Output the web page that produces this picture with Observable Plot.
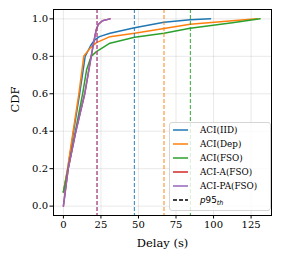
<!DOCTYPE html>
<html>
<head>
<meta charset="utf-8">
<script src="https://cdn.jsdelivr.net/npm/d3@7"></script>
<script src="https://cdn.jsdelivr.net/npm/@observablehq/plot@0.6"></script>
<style>
  html, body { margin: 0; padding: 0; background: #fff; }
  svg { display: block; }
</style>
</head>
<body>
<div id="chart"></div>
<script>
const seriesNames = ["ACI(IID)", "ACI(Dep)", "ACI(FSO)", "ACI-A(FSO)", "ACI-PA(FSO)"];
const seriesColors = ["#1f77b4", "#ff7f0e", "#2ca02c", "#d62728", "#9467bd"];

const iidX = [0, 2.9, 6.8, 10.8, 14.5, 18, 20.5, 24, 31, 47.4, 67, 84.4, 98];
const iidY = [0.075, 0.2, 0.4, 0.6, 0.8, 0.855, 0.885, 0.905, 0.923, 0.952, 0.982, 0.995, 1.0];
const depX = [0, 2.8, 6.5, 10.3, 13.6, 18, 22, 31, 47.4, 67, 84.4, 112.5, 129];
const depY = [0.075, 0.2, 0.4, 0.6, 0.802, 0.845, 0.873, 0.905, 0.923, 0.948, 0.971, 0.99, 1.0];
const fsoX = [0, 3.2, 8, 12.8, 15.5, 18.5, 22, 31, 47.4, 67, 84.4, 112.5, 131];
const fsoY = [0.075, 0.2, 0.4, 0.6, 0.73, 0.8, 0.825, 0.87, 0.902, 0.923, 0.95, 0.979, 1.0];
const aX = [0, 3.2, 8.3, 14.2, 18.5, 20.3, 21.8, 23.2, 26, 31];
const aY = [0, 0.2, 0.4, 0.6, 0.8, 0.88, 0.94, 0.97, 0.99, 1.0];
const paX = [0, 3.2, 8.3, 14.2, 18.5, 20.3, 21.8, 23.2, 26, 31];
const paY = [0, 0.2, 0.4, 0.6, 0.8, 0.88, 0.94, 0.97, 0.99, 1.0];

const p95 = [47.3, 67, 84.6, 22.4, 22.4];

const xTicks = [0, 25, 50, 75, 100, 125];
const yTicks = [0.0, 0.2, 0.4, 0.6, 0.8, 1.0];
const xLabel = "Delay (s)";
const yLabel = "CDF";

const allX = [iidX, depX, fsoX, aX, paX];
const allY = [iidY, depY, fsoY, aY, paY];

const lineData = [];
allX.forEach((xs, s) => xs.forEach((x, i) => lineData.push({series: seriesNames[s], x, y: allY[s][i]})));
const ruleData = p95.map((v, i) => ({series: seriesNames[i], x: v}));

const W = 281, H = 262;
const plot = Plot.plot({
  width: W,
  height: H,
  marginLeft: 53,
  marginRight: 10,
  marginTop: 9,
  marginBottom: 47,
  style: {fontFamily: "DejaVu Serif", fontSize: "10px", background: "#fff", color: "#000"},
  x: {domain: [-6.6, 138.6]},
  y: {domain: [-0.05, 1.05]},
  color: {domain: seriesNames, range: seriesColors},
  marks: [
    Plot.gridX(xTicks, {stroke: "#b0b0b0", strokeOpacity: 0.35, strokeWidth: 0.8}),
    Plot.gridY(yTicks, {stroke: "#b0b0b0", strokeOpacity: 0.35, strokeWidth: 0.8}),
    Plot.line(lineData, {x: "x", y: "y", z: "series", stroke: "series", strokeWidth: 1.5}),
    Plot.ruleX(ruleData, {x: "x", stroke: "series", strokeWidth: 1.2, strokeDasharray: "4,2", strokeOpacity: 0.8}),
    Plot.frame({stroke: "#000", strokeWidth: 1}),
    Plot.axisX(xTicks, {tickSize: 3.5, tickPadding: 2, fontSize: 10, label: null}),
    Plot.axisY(yTicks, {tickSize: 3.5, tickPadding: 2, fontSize: 10, tickFormat: d3.format(".1f"), label: null}),
    Plot.text([xLabel], {text: d => d, frameAnchor: "bottom", dy: 31, fontSize: 11.5, lineAnchor: "bottom"}),
    Plot.text([yLabel], {text: d => d, frameAnchor: "left", dx: -38, rotate: -90, fontSize: 11.5, dy: 0})
  ]
});
document.getElementById("chart").appendChild(plot);

// Legend
const svg = d3.select(plot);
const lg = svg.append("g").attr("font-family", "DejaVu Serif").attr("font-size", 8.8).attr("text-anchor", "start");
lg.append("rect").attr("x", 169.5).attr("y", 122.5).attr("width", 101).attr("height", 88)
  .attr("rx", 2.5).attr("fill", "#fff").attr("fill-opacity", 0.8).attr("stroke", "#cccccc").attr("stroke-width", 0.8);
const entries = seriesNames.map((n, i) => ({label: n, color: seriesColors[i], dash: null}));
entries.push({label: "p95", color: "#000", dash: "4,2"});
entries.forEach((e, i) => {
  const y = 130 + i * 14;
  lg.append("line").attr("x1", 173).attr("x2", 188).attr("y1", y).attr("y2", y)
    .attr("stroke", e.color).attr("stroke-width", 1.5).attr("stroke-dasharray", e.dash);
  const t = lg.append("text").attr("x", 200).attr("y", y).attr("dy", "0.35em").attr("fill", "#000");
  if (e.dash) {
    t.append("tspan").attr("font-style", "italic").attr("font-family", "DejaVu Sans").text("p");
    t.append("tspan").attr("font-family", "DejaVu Sans").text("95");
    t.append("tspan").attr("font-style", "italic").attr("font-family", "DejaVu Sans").attr("font-size", 6.5).attr("dy", "2").text("th");
  } else {
    t.text(e.label);
  }
});
</script>
</body>
</html>
